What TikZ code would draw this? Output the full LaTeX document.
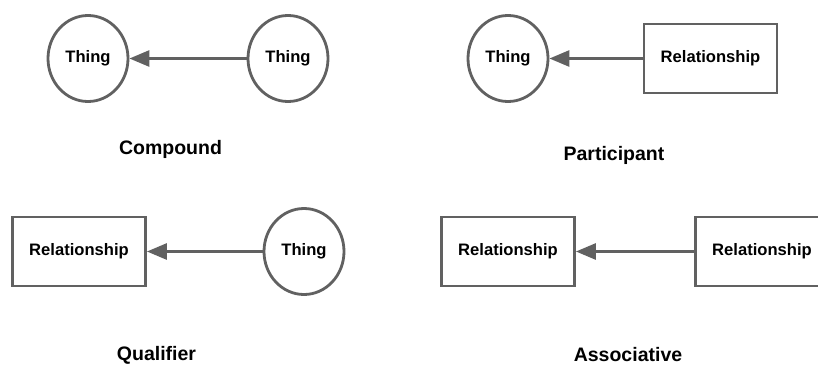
\documentclass[tikz,border=0pt]{standalone}
\usepackage{fontspec}
\setmainfont{Liberation Sans}
\usetikzlibrary{shapes.geometric,arrows.meta}
\definecolor{edgegray}{HTML}{616161}
\tikzset{
  thing/.style={ellipse, draw=edgegray, line width=2.8pt, fill=white,
    minimum width=80pt, minimum height=86pt, inner sep=0pt,
    font=\fontsize{16.6}{18}\selectfont\bfseries},
  relbox/.style={rectangle, draw=edgegray, line width=2.8pt, fill=white,
    minimum width=133pt, minimum height=69pt, inner sep=0pt,
    font=\fontsize{16.6}{18}\selectfont\bfseries},
  caption/.style={font=\fontsize{19.5}{22}\selectfont\bfseries, inner sep=0pt},
  link/.style={draw=edgegray, line width=2.8pt,
    -{Triangle[length=20pt,width=16pt]}, color=edgegray}
}
\begin{document}
\begin{tikzpicture}[x=1pt,y=-1pt]
  \clip (0,0) rectangle (818,367);
  \fill[white] (0,0) rectangle (818,367);

  % Compound: thing -> thing
  \node[thing] (c1) at (88,58.5) {Thing};
  \node[thing] (c2) at (288,58.5) {Thing};
  \draw[link] (c2) -- (c1);
  \node[caption] (capc) at (170.5,149) {Compound};

  % Participant: relationship -> thing
  \node[thing] (p1) at (508,58.5) {Thing};
  \node[relbox] (p2) at (710.5,58.5) {Relationship};
  \draw[link] (p2) -- (p1);
  \node[caption] (capp) at (614,155) {Participant};

  % Qualifier: thing -> relationship
  \node[relbox] (q1) at (79,251.5) {Relationship};
  \node[thing] (q2) at (304,251.5) {Thing};
  \draw[link] (q2) -- (q1);
  \node[caption] (capq) at (156.5,355) {Qualifier};

  % Associative: relationship -> relationship
  \node[relbox] (a1) at (508,251.5) {Relationship};
  \node[relbox] (a2) at (762,251.5) {Relationship};
  \draw[link] (a2) -- (a1);
  \node[caption] (capa) at (628,355) {Associative};
\end{tikzpicture}
\end{document}
